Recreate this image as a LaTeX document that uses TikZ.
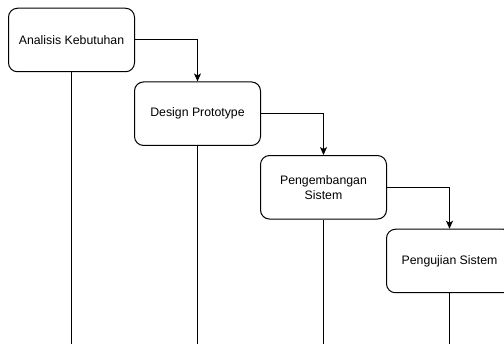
\documentclass[tikz,border=0pt]{standalone}
\usepackage{fontspec}
\setmainfont{Liberation Sans}
\usetikzlibrary{arrows.meta}
\begin{document}
\begin{tikzpicture}[x=1pt,y=-1pt,
  stage/.style={draw=black, line width=1pt, rounded corners=9pt, minimum width=126pt, minimum height=63.5pt, inner sep=0pt, align=center, font=\fontsize{12.3}{15}\selectfont, fill=white},
  flow/.style={draw=black, line width=1pt, -{Stealth[length=8pt,width=7pt,inset=2pt]}},
  life/.style={draw=black, line width=1pt}]
\useasboundingbox (0,0) rectangle (504,344);
\node[stage] (a) at (71.5,40) {Analisis Kebutuhan};
\node[stage] (b) at (197.5,113.7) {Design Prototype};
\node[stage] (c) at (323.5,187.3) {Pengembangan\\Sistem};
\node[stage] (d) at (449.5,261) {Pengujian Sistem};
\coordinate (ae) at (71.5,344);
\coordinate (be) at (197.5,344);
\coordinate (ce) at (323.5,344);
\coordinate (de) at (449.5,344);
\draw[life] (a.south) -- (ae);
\draw[life] (b.south) -- (be);
\draw[life] (c.south) -- (ce);
\draw[life] (d.south) -- (de);
\draw[flow] (a.east) -| (b.north);
\draw[flow] (b.east) -| (c.north);
\draw[flow] (c.east) -| (d.north);
\end{tikzpicture}
\end{document}
